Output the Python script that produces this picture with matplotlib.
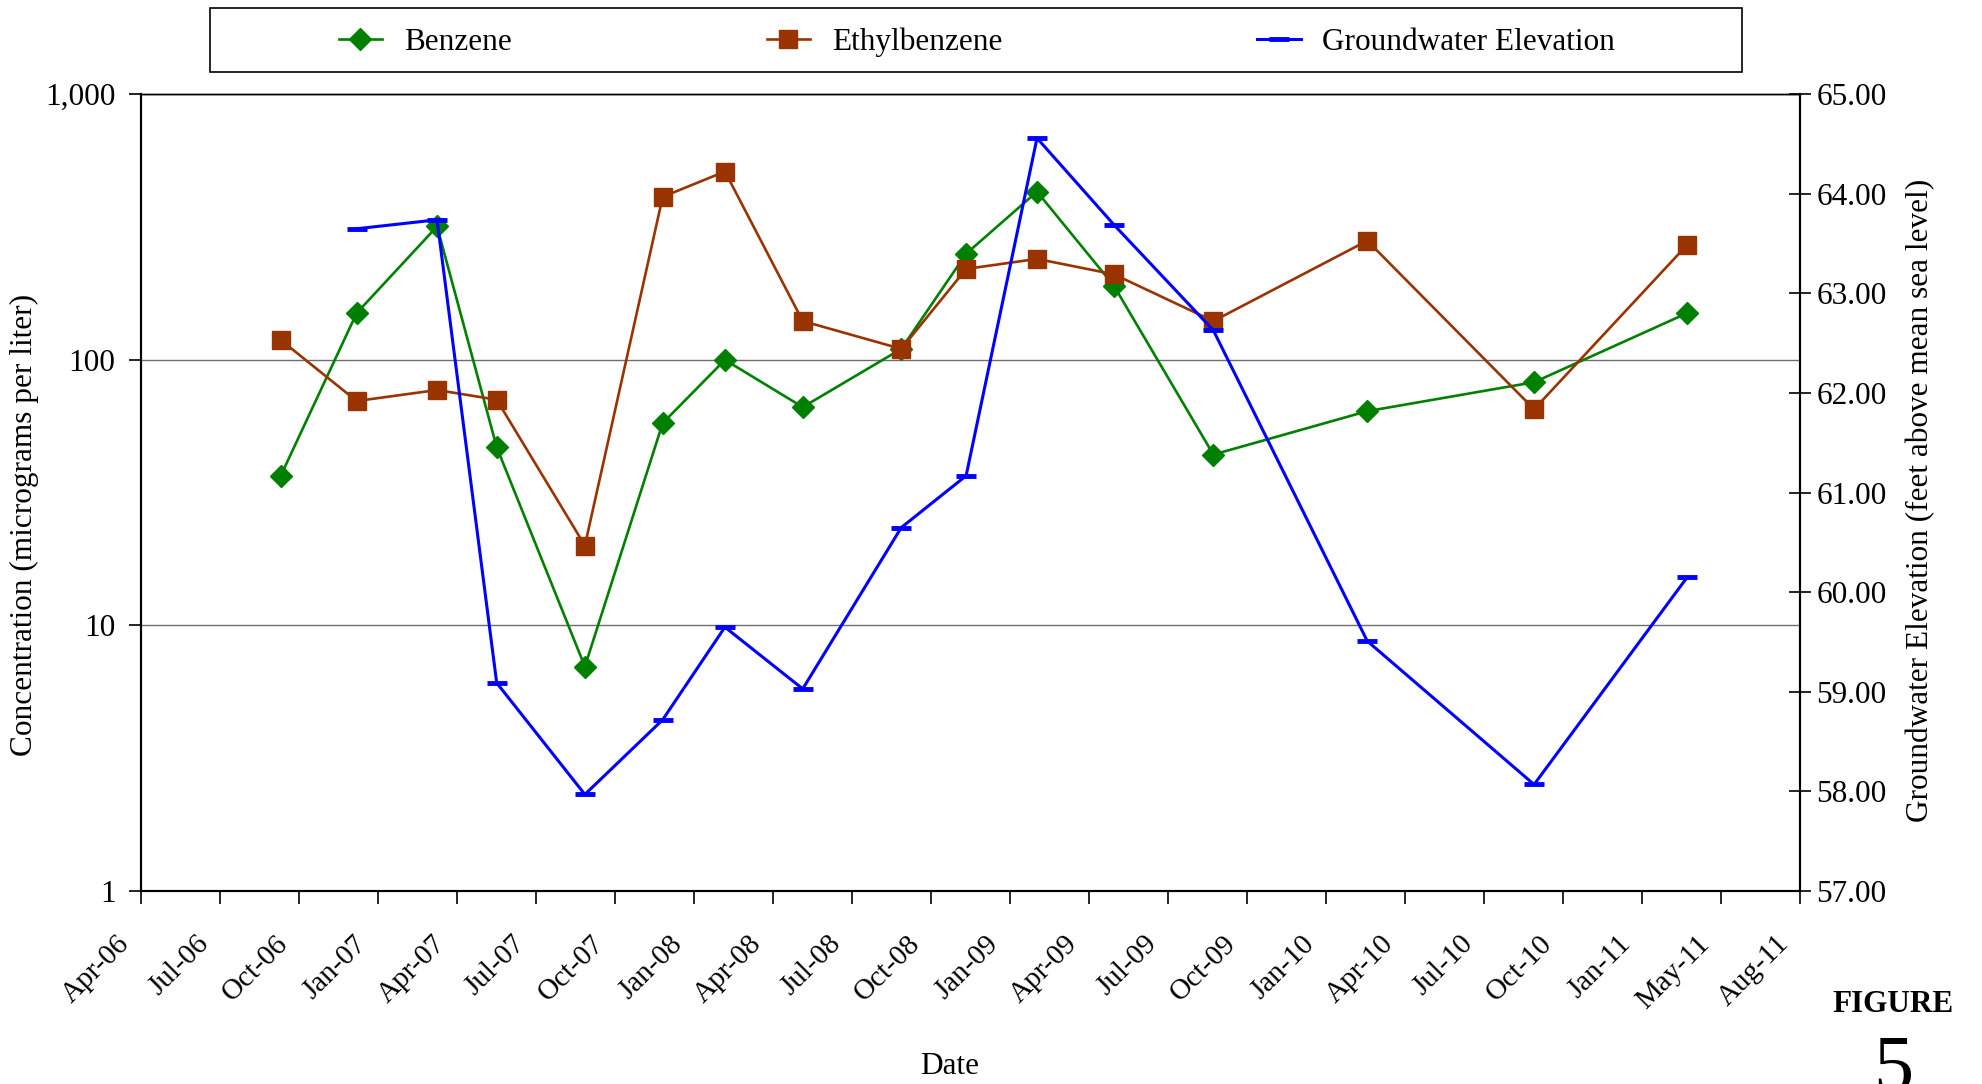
import numpy as np
import pandas as pd
import matplotlib
matplotlib.use('Agg')
import matplotlib.pyplot as plt
import matplotlib.dates as mdates
import matplotlib.transforms as mtransforms
from matplotlib.ticker import FixedLocator, FuncFormatter
from matplotlib.patches import Rectangle

plt.rcParams['font.family'] = ['Liberation Serif', 'DejaVu Serif']

# sampling events
sample_dates = ['2006-10-09', '2007-01-05', '2007-04-08', '2007-06-16', '2007-09-26',
                '2007-12-25', '2008-03-06', '2008-06-04', '2008-09-26', '2008-12-10',
                '2009-03-02', '2009-05-30', '2009-09-22', '2010-03-19', '2010-09-28',
                '2011-03-24']
benzene = [36.5, 150, 318, 46.9, 7.0, 57.8, 100, 66.4, 110, 251,
           430, 190, 44, 64.1, 82.4, 150]
ethylbenzene = [119, 70, 77, 70.8, 20, 411, 512, 140, 110, 220,
                240, 210, 140, 281, 65.2, 271]
gw_elevation = [np.nan, 63.65, 63.74, 59.09, 57.97, 58.72, 59.65, 59.03, 60.65, 61.17,
                64.56, 63.69, 62.63, 59.51, 58.07, 60.15]

# excel-style date axis: min date, major unit in days, labels as printed
axis_start = '2006-04-30'
major_unit = 91.4
date_labels = ['Apr-06', 'Jul-06', 'Oct-06', 'Jan-07', 'Apr-07', 'Jul-07', 'Oct-07',
               'Jan-08', 'Apr-08', 'Jul-08', 'Oct-08', 'Jan-09', 'Apr-09', 'Jul-09',
               'Oct-09', 'Jan-10', 'Apr-10', 'Jul-10', 'Oct-10', 'Jan-11', 'May-11',
               'Aug-11']

conc_ticks = [1, 10, 100, 1000]
elev_ticks = [57, 58, 59, 60, 61, 62, 63, 64, 65]

dates = pd.to_datetime(sample_dates)
x = mdates.date2num(dates)
x0 = mdates.date2num(pd.Timestamp(axis_start))
xticks = [x0 + k * major_unit for k in range(len(date_labels))]

FS = 22.5

fig = plt.figure(figsize=(19.82, 10.84), dpi=100)
ax = fig.add_axes([0.0709, 0.178, 0.8372, 0.735])
ax2 = ax.twinx()

green = '#008000'
brown = '#993300'
blue = '#0000FF'

l1, = ax.plot(x, benzene, color=green, lw=1.9, marker='D', ms=11.5, mec=green, label='Benzene')
l2, = ax.plot(x, ethylbenzene, color=brown, lw=1.9, marker='s', ms=12.5, mec=brown, label='Ethylbenzene')
l3, = ax2.plot(x, gw_elevation, color=blue, lw=2.2, marker='_', ms=14, mew=3.5, label='Groundwater Elevation')

ax.set_yscale('log')
ax.set_ylim(1, 1000)
ax.yaxis.set_major_locator(FixedLocator(conc_ticks))
ax.yaxis.set_minor_locator(FixedLocator([]))
ax.yaxis.set_major_formatter(FuncFormatter(lambda v, p: '{:,.0f}'.format(v)))
ax.grid(axis='y', color='#6e6e6e', lw=1.0)
ax.set_axisbelow(True)

ax2.set_ylim(57, 65)
ax2.yaxis.set_major_locator(FixedLocator(elev_ticks))
ax2.yaxis.set_major_formatter(FuncFormatter(lambda v, p: '%.2f' % v))

for a in (ax, ax2):
    for s in a.spines.values():
        s.set_linewidth(1.5)
    a.spines['top'].set_linewidth(1.0)

ax.tick_params(axis='x', direction='out', length=9, width=1.2, labelsize=21, pad=8)
ax.tick_params(axis='y', direction='out', length=9, width=1.2, labelsize=FS, pad=9)
ax2.tick_params(axis='y', direction='inout', length=16, width=1.2, labelsize=FS, pad=4)

ax.set_xlim(xticks[0], xticks[-1])
ax.set_xticks(xticks)
ax.set_xticklabels(date_labels, rotation=45, ha='right', va='top', rotation_mode='anchor')
# nudge the slanted date labels down-left like the original
shift = mtransforms.ScaledTranslation(-24 / 100, -16 / 100, fig.dpi_scale_trans)
for lab in ax.get_xticklabels():
    lab.set_transform(lab.get_transform() + shift)

ax.set_ylabel('Concentration (micrograms per liter)', fontsize=FS)
ax.yaxis.set_label_coords(-0.061, 0.46)
ax2.set_ylabel('Groundwater Elevation (feet above mean sea level)', fontsize=FS)
ax2.yaxis.set_label_coords(1.064, 0.49)

fig.text(0.479, 0.016, 'Date', fontsize=FS, ha='center', va='center')
fig.text(0.955, 0.073, 'FIGURE', fontsize=FS, fontweight='bold', ha='center', va='center')
fig.text(0.955, 0.045, '5', fontsize=58, ha='center', va='top')

# legend box across the top
fig.patches.append(Rectangle((0.106, 0.934), 0.773, 0.059, transform=fig.transFigure,
                             fill=False, ec='black', lw=1.2))
fig.legend([l1, l2, l3], ['Benzene', 'Ethylbenzene', 'Groundwater Elevation'],
           loc='center', bbox_to_anchor=(0.171, 0.930, 0.644, 0.062), mode='expand',
           ncol=3, frameon=False, fontsize=FS, handlelength=1.38, handletextpad=0.7,
           borderaxespad=0, borderpad=0)

fig.savefig('out.png', dpi=100)
